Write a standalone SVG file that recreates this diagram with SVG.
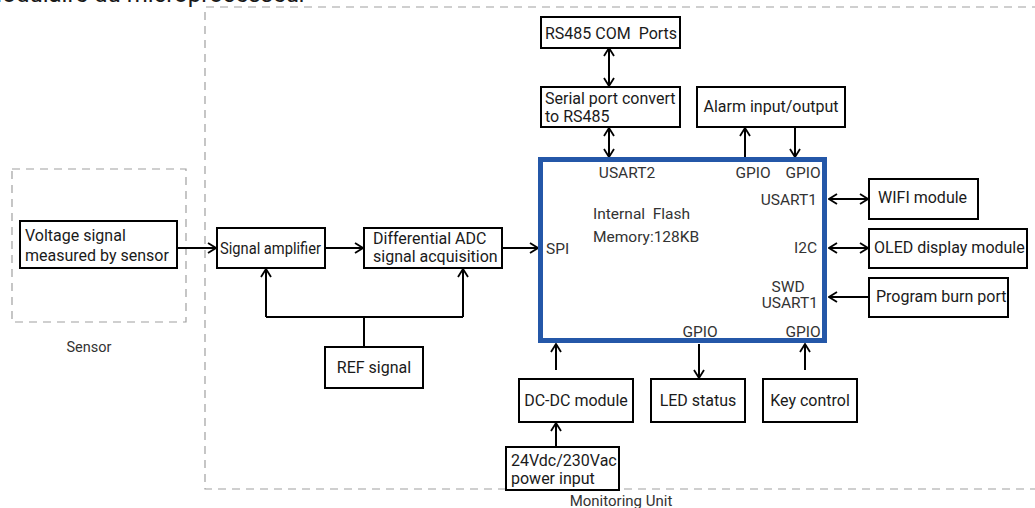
<svg xmlns="http://www.w3.org/2000/svg" width="1035" height="508" viewBox="0 0 1035 508">
  <style>
    .box { fill: #fff; stroke: #000; stroke-width: 2; }
    .grp { fill: none; stroke: #a0a0a0; stroke-width: 1.2; stroke-dasharray: 8 6; }
    .mcu { fill: #fff; stroke: #2457a8; stroke-width: 5; }
    .t { font-family: Roboto, "Liberation Sans", sans-serif; font-size: 16px; fill: #1a1a1a; white-space: pre; }
    .g { font-family: Roboto, "Liberation Sans", sans-serif; font-size: 15.5px; fill: #333; white-space: pre; }
    .m { text-anchor: middle; }
    .e { text-anchor: end; }
    .wire { fill: none; stroke: #000; stroke-width: 2; }
  </style>
  <defs>
    <marker id="ah" viewBox="0 0 10 12" refX="9" refY="6" markerWidth="10" markerHeight="12" markerUnits="userSpaceOnUse" orient="auto-start-reverse">
      <path d="M1,1 L9,6 L1,11" fill="none" stroke="#000" stroke-width="1.8"/>
    </marker>
  </defs>
  <rect width="1035" height="508" fill="#fff"/>

  <!-- page heading, clipped at the top edge -->
  <text x="307" y="2" class="t e" style="font-size:24px">Modulaire du microprocesseur</text>

  <!-- group outlines -->
  <g id="monitoring-unit">
    <path class="grp" d="M1040,7 H205 V489 H1040"/>
    <text x="621" y="506" class="g m" style="font-size:15px">Monitoring Unit</text>
  </g>
  <g id="sensor-group">
    <rect class="grp" x="12" y="169" width="174" height="153"/>
    <text x="89" y="352" class="g m" style="font-size:14.5px">Sensor</text>
  </g>

  <!-- connectors -->
  <g id="connectors">
    <line class="wire" x1="177" y1="248" x2="216" y2="248" marker-end="url(#ah)"/>
    <line class="wire" x1="325" y1="248" x2="363" y2="248" marker-end="url(#ah)"/>
    <line class="wire" x1="502" y1="248" x2="538" y2="248" marker-end="url(#ah)"/>
    <path class="wire" d="M364,347 V317"/>
    <path class="wire" d="M266,317 H463"/>
    <line class="wire" x1="266" y1="317" x2="266" y2="269" marker-end="url(#ah)"/>
    <line class="wire" x1="463" y1="317" x2="463" y2="269" marker-end="url(#ah)"/>
    <line class="wire" x1="609" y1="48" x2="609" y2="86" marker-start="url(#ah)" marker-end="url(#ah)"/>
    <line class="wire" x1="609" y1="128" x2="609" y2="157" marker-start="url(#ah)" marker-end="url(#ah)"/>
    <line class="wire" x1="745" y1="157" x2="745" y2="128" marker-end="url(#ah)"/>
    <line class="wire" x1="795" y1="128" x2="795" y2="157" marker-end="url(#ah)"/>
    <line class="wire" x1="829" y1="199" x2="868" y2="199" marker-start="url(#ah)" marker-end="url(#ah)"/>
    <line class="wire" x1="829" y1="248" x2="868" y2="248" marker-start="url(#ah)" marker-end="url(#ah)"/>
    <line class="wire" x1="869" y1="297" x2="829" y2="297" marker-end="url(#ah)"/>
    <line class="wire" x1="556" y1="370" x2="556" y2="344" marker-end="url(#ah)"/>
    <line class="wire" x1="699" y1="344" x2="699" y2="378" marker-end="url(#ah)"/>
    <line class="wire" x1="805" y1="370" x2="805" y2="344" marker-end="url(#ah)"/>
    <line class="wire" x1="556" y1="447" x2="556" y2="423" marker-end="url(#ah)"/>
  </g>

  <!-- nodes -->
  <g id="voltage-signal">
    <rect class="box" x="20" y="221" width="157" height="47"/>
    <text x="25" y="241" class="t">Voltage signal</text>
    <text x="25" y="261" class="t">measured by sensor</text>
  </g>
  <g id="signal-amplifier">
    <rect class="box" x="217" y="228" width="108" height="40"/>
    <text x="220" y="254" class="t" textLength="101" lengthAdjust="spacingAndGlyphs">Signal amplifier</text>
  </g>
  <g id="differential-adc">
    <rect class="box" x="364" y="228" width="138" height="40"/>
    <text x="373" y="244" class="t">Differential ADC</text>
    <text x="373" y="262" class="t">signal acquisition</text>
  </g>
  <g id="ref-signal">
    <rect class="box" x="325" y="347" width="98" height="41"/>
    <text x="374" y="373" class="t m">REF signal</text>
  </g>
  <g id="rs485-ports">
    <rect class="box" x="541" y="17" width="139" height="31"/>
    <text x="545" y="39" class="t">RS485 COM  Ports</text>
  </g>
  <g id="serial-converter">
    <rect class="box" x="541" y="87" width="139" height="40"/>
    <text x="545" y="104" class="t">Serial port convert</text>
    <text x="545" y="122" class="t">to RS485</text>
  </g>
  <g id="alarm-io">
    <rect class="box" x="697" y="87" width="148" height="40"/>
    <text x="771" y="112" class="t m">Alarm input/output</text>
  </g>

  <g id="mcu">
    <rect class="mcu" x="540.5" y="159.5" width="284" height="181"/>
    <text x="627" y="178" class="g m">USART2</text>
    <text x="753" y="178" class="g m">GPIO</text>
    <text x="803" y="178" class="g m">GPIO</text>
    <text x="817" y="205" class="g e">USART1</text>
    <text x="593" y="219" class="g">Internal  Flash</text>
    <text x="593" y="242" class="g">Memory:128KB</text>
    <text x="546" y="254" class="g">SPI</text>
    <text x="817" y="253" class="g e">I2C</text>
    <text x="788" y="292" class="g m">SWD</text>
    <text x="818" y="308" class="g e">USART1</text>
    <text x="700" y="337" class="g m">GPIO</text>
    <text x="803" y="337" class="g m">GPIO</text>
  </g>

  <g id="wifi-module">
    <rect class="box" x="869" y="179" width="109" height="40"/>
    <text x="878" y="203" class="t">WIFI module</text>
  </g>
  <g id="oled-module">
    <rect class="box" x="869" y="229" width="158" height="39"/>
    <text x="874" y="253" class="t">OLED display module</text>
  </g>
  <g id="program-port">
    <rect class="box" x="869" y="278" width="139" height="39"/>
    <text x="876" y="302" class="t">Program burn port</text>
  </g>
  <g id="dcdc-module">
    <rect class="box" x="519" y="379" width="114" height="43"/>
    <text x="576" y="406" class="t m">DC-DC module</text>
  </g>
  <g id="led-status">
    <rect class="box" x="651" y="379" width="94" height="43"/>
    <text x="698" y="406" class="t m">LED status</text>
  </g>
  <g id="key-control">
    <rect class="box" x="763" y="379" width="94" height="43"/>
    <text x="810" y="406" class="t m">Key control</text>
  </g>
  <g id="power-input">
    <rect class="box" x="506" y="447" width="113" height="43"/>
    <text x="511" y="466" class="t">24Vdc/230Vac</text>
    <text x="511" y="484" class="t">power input</text>
  </g>
</svg>
